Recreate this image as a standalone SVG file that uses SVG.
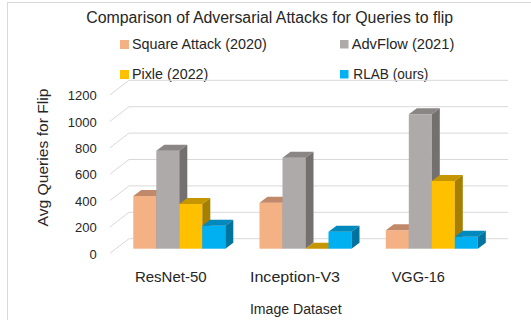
<svg xmlns="http://www.w3.org/2000/svg" width="531" height="320" viewBox="0 0 531 320">
<style>
text{font-family:"Liberation Sans",Arial,sans-serif;fill:#262626}
.grid{fill:none;stroke:#d9d9d9;stroke-width:1}
.tick{font-size:13px;text-anchor:end}
.cat{font-size:15.5px;text-anchor:middle}
.leg{font-size:14.5px}
.sqf{fill:#f4b183}.sqt{fill:#c0896a}.sqs{fill:#a87356}
.avf{fill:#aeaaaa}.avt{fill:#8a8686}.avs{fill:#747070}
.pxf{fill:#ffc000}.pxt{fill:#c59600}.pxs{fill:#a67f00}
.rlf{fill:#00b0f0}.rlt{fill:#0089bc}.rls{fill:#00739f}
</style>
<rect x="7.5" y="2.5" width="600" height="400" fill="#ffffff" stroke="#d9d9d9"/>
<text x="269.7" y="22.7" font-size="15.8" text-anchor="middle" textLength="367" lengthAdjust="spacingAndGlyphs">Comparison of Adversarial Attacks for Queries to flip</text>
<g id="legend">
<rect class="sqf" x="120" y="40" width="9" height="9"/>
<text class="leg" x="132" y="49" textLength="134.7" lengthAdjust="spacingAndGlyphs">Square Attack (2020)</text>
<rect class="avf" x="340" y="40" width="8.5" height="8.5"/>
<text class="leg" x="351.7" y="49" textLength="102.6" lengthAdjust="spacingAndGlyphs">AdvFlow (2021)</text>
<rect class="pxf" x="120" y="70" width="9" height="9"/>
<text class="leg" x="132" y="79" textLength="76.3" lengthAdjust="spacingAndGlyphs">Pixle (2022)</text>
<rect class="rlf" x="340" y="70" width="8.5" height="8.5"/>
<text class="leg" x="353.3" y="79" textLength="75" lengthAdjust="spacingAndGlyphs">RLAB (ours)</text>
</g>
<g id="gridlines">
<path class="grid" d="M110 253.3L129 238.7H508.3"/>
<path class="grid" d="M110 226.9L129 212.3H508.3"/>
<path class="grid" d="M110 200.5L129 185.9H508.3"/>
<path class="grid" d="M110 174.1L129 159.5H508.3"/>
<path class="grid" d="M110 147.7L129 133.1H508.3"/>
<path class="grid" d="M110 121.3L129 106.7H508.3"/>
<path class="grid" d="M110 94.9L129 80.3H508.3"/>
</g>
<g id="y-axis">
<text class="tick" x="96.7" y="258.6">0</text>
<text class="tick" x="96.7" y="232.2">200</text>
<text class="tick" x="96.7" y="205.8">400</text>
<text class="tick" x="96.7" y="179.4">600</text>
<text class="tick" x="96.7" y="153">800</text>
<text class="tick" x="96.7" y="126.6">1000</text>
<text class="tick" x="96.7" y="100.2">1200</text>
<text transform="translate(48.3 157.5) rotate(-90)" font-size="15.5" text-anchor="middle" textLength="138" lengthAdjust="spacingAndGlyphs">Avg Queries for Flip</text>
</g>
<g id="resnet50">
<rect class="sqf" x="133.3" y="196" width="23" height="52.7"/>
<polygon class="sqt" points="133.3,196 141.3,190 164.3,190 156.3,196"/>
<polygon class="sqs" points="156.3,196 164.3,190 164.3,242.7 156.3,248.7"/>
<rect class="avf" x="156.3" y="150.7" width="23" height="98"/>
<polygon class="avt" points="156.3,150.7 164.3,144.7 187.3,144.7 179.3,150.7"/>
<polygon class="avs" points="179.3,150.7 187.3,144.7 187.3,242.7 179.3,248.7"/>
<rect class="pxf" x="179.3" y="204" width="23" height="44.7"/>
<polygon class="pxt" points="179.3,204 187.3,198 210.3,198 202.3,204"/>
<polygon class="pxs" points="202.3,204 210.3,198 210.3,242.7 202.3,248.7"/>
<rect class="rlf" x="202.3" y="225.7" width="23" height="23"/>
<polygon class="rlt" points="202.3,225.7 210.3,219.7 233.3,219.7 225.3,225.7"/>
<polygon class="rls" points="225.3,225.7 233.3,219.7 233.3,242.7 225.3,248.7"/>
</g>
<g id="inception-v3">
<rect class="sqf" x="259.5" y="202.7" width="23" height="46"/>
<polygon class="sqt" points="259.5,202.7 267.5,196.7 290.5,196.7 282.5,202.7"/>
<polygon class="sqs" points="282.5,202.7 290.5,196.7 290.5,242.7 282.5,248.7"/>
<rect class="avf" x="282.5" y="157.7" width="23" height="91"/>
<polygon class="avt" points="282.5,157.7 290.5,151.7 313.5,151.7 305.5,157.7"/>
<polygon class="avs" points="305.5,157.7 313.5,151.7 313.5,242.7 305.5,248.7"/>
<polygon class="pxt" points="305.5,248.7 313.5,242.7 336.5,242.7 328.5,248.7"/>
<rect class="rlf" x="328.5" y="231.7" width="23" height="17"/>
<polygon class="rlt" points="328.5,231.7 336.5,225.7 359.5,225.7 351.5,231.7"/>
<polygon class="rls" points="351.5,231.7 359.5,225.7 359.5,242.7 351.5,248.7"/>
</g>
<g id="vgg16">
<rect class="sqf" x="385.8" y="230.3" width="23" height="18.4"/>
<polygon class="sqt" points="385.8,230.3 393.8,224.3 416.8,224.3 408.8,230.3"/>
<polygon class="sqs" points="408.8,230.3 416.8,224.3 416.8,242.7 408.8,248.7"/>
<rect class="avf" x="408.8" y="114.3" width="23" height="134.4"/>
<polygon class="avt" points="408.8,114.3 416.8,108.3 439.8,108.3 431.8,114.3"/>
<polygon class="avs" points="431.8,114.3 439.8,108.3 439.8,242.7 431.8,248.7"/>
<rect class="pxf" x="431.8" y="181" width="23" height="67.7"/>
<polygon class="pxt" points="431.8,181 439.8,175 462.8,175 454.8,181"/>
<polygon class="pxs" points="454.8,181 462.8,175 462.8,242.7 454.8,248.7"/>
<rect class="rlf" x="454.8" y="236.7" width="23" height="12"/>
<polygon class="rlt" points="454.8,236.7 462.8,230.7 485.8,230.7 477.8,236.7"/>
<polygon class="rls" points="477.8,236.7 485.8,230.7 485.8,242.7 477.8,248.7"/>
</g>
<g id="x-axis">
<text class="cat" x="170.8" y="281.7" textLength="71.7" lengthAdjust="spacingAndGlyphs">ResNet-50</text>
<text class="cat" x="295" y="281.7" textLength="90" lengthAdjust="spacingAndGlyphs">Inception-V3</text>
<text class="cat" x="418.3" y="281.7" textLength="53.3" lengthAdjust="spacingAndGlyphs">VGG-16</text>
<text x="295.8" y="314" font-size="14" text-anchor="middle" textLength="91.7" lengthAdjust="spacingAndGlyphs">Image Dataset</text>
</g>
</svg>
